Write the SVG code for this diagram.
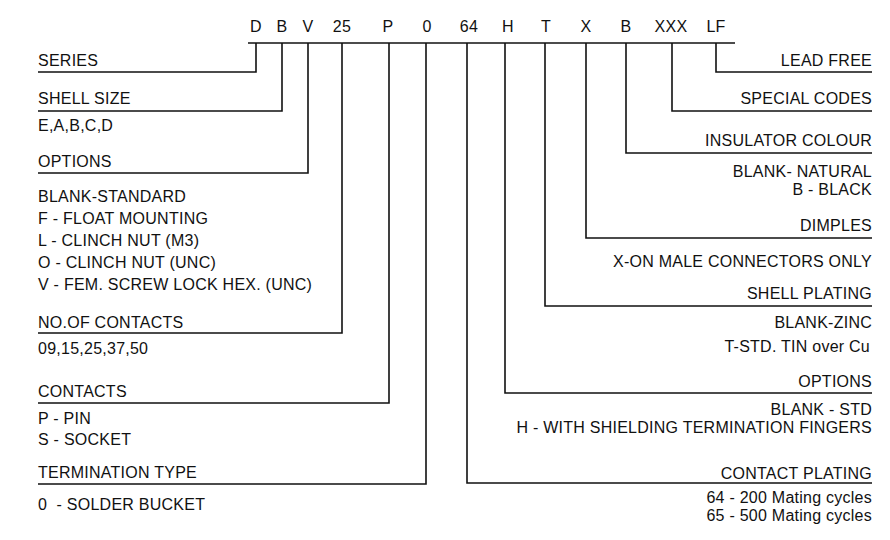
<svg xmlns="http://www.w3.org/2000/svg" width="890" height="540" viewBox="0 0 890 540">
<style>
text{font-family:"Liberation Sans",Arial,sans-serif;font-size:16px;letter-spacing:0.25px;fill:#111}
.r{text-anchor:end}
.c{text-anchor:middle}
.ln{fill:none;stroke:#111;stroke-width:1.6}
</style>
<rect width="890" height="540" fill="#fff"/>
<g id="code">
<text class="c" x="256" y="32">D</text>
<text class="c" x="282" y="32">B</text>
<text class="c" x="308" y="32">V</text>
<text class="c" x="342" y="32">25</text>
<text class="c" x="388" y="32">P</text>
<text class="c" x="427" y="32">0</text>
<text class="c" x="469" y="32">64</text>
<text class="c" x="508" y="32">H</text>
<text class="c" x="546" y="32">T</text>
<text class="c" x="586" y="32">X</text>
<text class="c" x="626" y="32">B</text>
<text class="c" x="671" y="32">XXX</text>
<text class="c" x="716" y="32">LF</text>
</g>
<g id="connectors" class="ln">
<path class="ln" d="M248,43H735"/>
<path class="ln" d="M256,43V72H38"/>
<path class="ln" d="M282,43V111H38"/>
<path class="ln" d="M308,43V173H38"/>
<path class="ln" d="M342,43V333H38"/>
<path class="ln" d="M389,43V403H38"/>
<path class="ln" d="M426,43V484H38"/>
<path class="ln" d="M467,43V483H872"/>
<path class="ln" d="M505,43V393H872"/>
<path class="ln" d="M545,43V306H872"/>
<path class="ln" d="M586,43V238H872"/>
<path class="ln" d="M626,43V153H872"/>
<path class="ln" d="M672,43V111H872"/>
<path class="ln" d="M716,43V72H872"/>
</g>
<g id="series"><text x="38" y="66">SERIES</text></g>
<g id="shell-size"><text x="38" y="104">SHELL SIZE</text><text x="38" y="131">E,A,B,C,D</text></g>
<g id="options-left">
<text x="38" y="167">OPTIONS</text>
<text x="38" y="202">BLANK-STANDARD</text>
<text x="38" y="224">F - FLOAT MOUNTING</text>
<text x="38" y="246">L - CLINCH NUT (M3)</text>
<text x="38" y="268">O - CLINCH NUT (UNC)</text>
<text x="38" y="290">V - FEM. SCREW LOCK HEX. (UNC)</text>
</g>
<g id="no-of-contacts"><text x="38" y="328">NO.OF CONTACTS</text><text x="38" y="354">09,15,25,37,50</text></g>
<g id="contacts"><text x="38" y="397">CONTACTS</text><text x="38" y="424">P - PIN</text><text x="38" y="445">S - SOCKET</text></g>
<g id="termination-type"><text x="38" y="478">TERMINATION TYPE</text><text x="38" y="510" xml:space="preserve">0  - SOLDER BUCKET</text></g>
<g id="lead-free"><text class="r" x="872" y="66">LEAD FREE</text></g>
<g id="special-codes"><text class="r" x="872" y="104">SPECIAL CODES</text></g>
<g id="insulator-colour"><text class="r" x="872" y="146">INSULATOR COLOUR</text><text class="r" x="872" y="177">BLANK- NATURAL</text><text class="r" x="872" y="195">B - BLACK</text></g>
<g id="dimples"><text class="r" x="872" y="231">DIMPLES</text><text class="r" x="872" y="267">X-ON MALE CONNECTORS ONLY</text></g>
<g id="shell-plating"><text class="r" x="872" y="299">SHELL PLATING</text><text class="r" x="872" y="328">BLANK-ZINC</text><text class="r" x="870" y="352">T-STD. TIN over Cu</text></g>
<g id="options-right"><text class="r" x="872" y="387">OPTIONS</text><text class="r" x="872" y="415">BLANK - STD</text><text class="r" x="872" y="433">H - WITH SHIELDING TERMINATION FINGERS</text></g>
<g id="contact-plating"><text class="r" x="872" y="479">CONTACT PLATING</text><text class="r" x="872" y="503">64 - 200 Mating cycles</text><text class="r" x="872" y="521">65 - 500 Mating cycles</text></g>
</svg>
